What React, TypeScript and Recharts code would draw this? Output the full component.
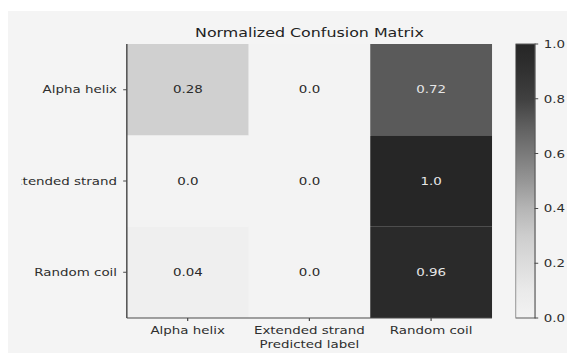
// Normalized confusion matrix (Greys heatmap) with a colorbar on the right.
// The source image is stretched sideways, so the drawing is scaled in x by SX.
import { Bar, BarChart, Cell, LabelList, XAxis, YAxis } from "recharts";

const trueLabels = ["Alpha helix", "Extended strand", "Random coil"];
const predLabels = ["Alpha helix", "Extended strand", "Random coil"];
const alphaRow = [0.28, 0.0, 0.72];
const extendedRow = [0.0, 0.0, 1.0];
const randomRow = [0.04, 0.0, 0.96];
const rowTicks = [2.5, 1.5, 0.5];
const colorbarTicks = [0, 0.2, 0.4, 0.6, 0.8, 1.0];

const SX = 1.22;
const FONT = "'DejaVu Sans', sans-serif";
const SPINE = "#4a4a4a";
// the source figure is cropped on the left, cutting into the longest row label
const CLIP_LEFT = 11.1;

// matplotlib "Greys"; the picture's extremes are washed out, so squeeze the ends
const greys = [255, 240, 217, 189, 150, 115, 82, 37, 0];
function grey(v: number) {
  const t = Math.max(0, Math.min(1, v)) * (greys.length - 1);
  const i = Math.min(greys.length - 2, Math.floor(t));
  const g = greys[i] + (greys[i + 1] - greys[i]) * (t - i);
  let c = g;
  if (g < 60) c = 38 + (g * 22) / 60;
  else if (g > 200) c = 200 + ((g - 200) * 43) / 55;
  c = Math.round(c);
  return `rgb(${c},${c},${c})`;
}

const fmt = (v: number) => {
  const s = String(v);
  return s.includes(".") ? s : s + ".0";
};

const data = predLabels.map((p, i) => ({
  pred: p,
  random: 1,
  extended: 1,
  alpha: 1,
  randomVal: randomRow[i],
  extendedVal: extendedRow[i],
  alphaVal: alphaRow[i],
}));

const rows = [
  { key: "random", values: randomRow },
  { key: "extended", values: extendedRow },
  { key: "alpha", values: alphaRow },
];

const cellLabel = (props: any) => {
  const x = Number(props.x);
  const y = Number(props.y);
  const w = Number(props.width);
  const h = Number(props.height);
  const v = Number(props.value);
  return (
    <text
      x={x + w / 2}
      y={y + h / 2}
      textAnchor="middle"
      dominantBaseline="central"
      fontSize={11}
      fontFamily={FONT}
      fill={v > 0.5 ? "#e6e6e6" : "#2a2a2a"}
    >
      {fmt(v)}
    </text>
  );
};

const tickStyle = { fontSize: 11, fill: "#2e2e2e", fontFamily: FONT };

// single-line row labels (the default tick wraps long text)
const RowTick = (props: any) => {
  const { x, y, payload } = props;
  return (
    <text
      x={x}
      y={y}
      textAnchor="end"
      dominantBaseline="central"
      fontSize={11}
      fontFamily={FONT}
      fill="#2e2e2e"
    >
      {trueLabels[rowTicks.indexOf(payload.value)]}
    </text>
  );
};

export default function App() {
  return (
    <div
      style={{
        position: "relative",
        top: 3,
        width: 567,
        height: 345,
        background: "#f4f4f4",
        overflow: "hidden",
        fontFamily: FONT,
      }}
    >
      <div
        style={{
          position: "absolute",
          left: 0,
          top: 0,
          width: 567 / SX,
          height: 345,
          transform: `scaleX(${SX})`,
          transformOrigin: "0 0",
        }}
      >
        <div
          style={{
            position: "absolute",
            left: 97.5,
            top: 14,
            width: 299.2,
            textAlign: "center",
            fontSize: 13,
            lineHeight: "15px",
            color: "#222",
            whiteSpace: "nowrap",
          }}
        >
          Normalized Confusion Matrix
        </div>

        <div
          style={{
            position: "absolute",
            left: CLIP_LEFT,
            top: 0,
            width: 396.8 - CLIP_LEFT,
            height: 345,
            overflow: "hidden",
          }}
        >
          <BarChart
            width={396.8 - CLIP_LEFT}
            height={345}
            data={data}
            margin={{ top: 33, right: 0, bottom: 0, left: 0 }}
            barCategoryGap={0}
            barGap={0}
          >
            <XAxis
              dataKey="pred"
              height={38}
              tick={tickStyle}
              tickSize={3}
              tickMargin={5}
              tickLine={{ stroke: SPINE }}
              axisLine={{ stroke: SPINE, strokeWidth: 1.2 }}
              interval={0}
              label={{
                value: "Predicted label",
                position: "insideBottom",
                offset: 8,
                fontSize: 11,
                fill: "#2e2e2e",
                fontFamily: FONT,
              }}
            />
            <XAxis
              xAxisId="top"
              dataKey="pred"
              orientation="top"
              height={0}
              tick={false}
              tickLine={false}
              axisLine={{ stroke: SPINE, strokeWidth: 1.2 }}
            />
            <YAxis
              type="number"
              domain={[0, 3]}
              ticks={rowTicks}
              width={97.5 - CLIP_LEFT}
              tick={<RowTick />}
              tickSize={3}
              tickMargin={5}
              tickLine={{ stroke: SPINE }}
              axisLine={{ stroke: SPINE, strokeWidth: 1.2 }}
              interval={0}
            />
            <YAxis
              yAxisId="right"
              type="number"
              orientation="right"
              domain={[0, 3]}
              width={0}
              tick={false}
              tickLine={false}
              axisLine={{ stroke: SPINE, strokeWidth: 1.2 }}
            />
            {rows.map((r) => (
              <Bar key={r.key} dataKey={r.key} stackId="cm" isAnimationActive={false}>
                {r.values.map((v, i) => (
                  <Cell key={i} fill={grey(v)} />
                ))}
                <LabelList dataKey={r.key + "Val"} content={cellLabel} />
              </Bar>
            ))}
          </BarChart>
        </div>

        <div style={{ position: "absolute", left: 416.4, top: 0 }}>
          <BarChart
            width={45.6}
            height={345}
            data={[{ name: "cb", c: 1 }]}
            margin={{ top: 33, right: 0, bottom: 38, left: 0 }}
            barCategoryGap={0}
          >
            <defs>
              <linearGradient id="cbGrad" x1="0" y1="1" x2="0" y2="0">
                {[0, 0.05, 0.1, 0.2, 0.3, 0.4, 0.5, 0.6, 0.7, 0.8, 0.9, 0.95, 1].map((o) => (
                  <stop key={o} offset={o} stopColor={grey(o)} />
                ))}
              </linearGradient>
            </defs>
            <XAxis dataKey="name" hide />
            <YAxis
              orientation="right"
              type="number"
              domain={[0, 1]}
              ticks={colorbarTicks}
              width={30}
              tick={tickStyle}
              tickSize={3}
              tickMargin={4.6}
              tickLine={{ stroke: SPINE }}
              axisLine={false}
              tickFormatter={(v: number) => v.toFixed(1)}
              interval={0}
            />
            <Bar
              dataKey="c"
              fill="url(#cbGrad)"
              stroke="#5a5a5a"
              strokeWidth={1}
              isAnimationActive={false}
            />
          </BarChart>
        </div>
      </div>
    </div>
  );
}
